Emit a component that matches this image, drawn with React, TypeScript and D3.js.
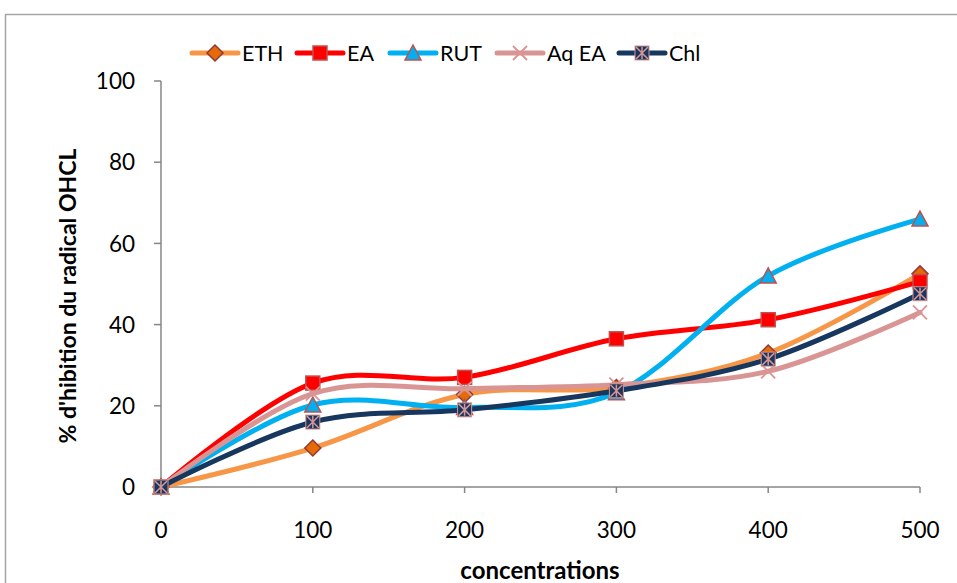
import React from "react";
import * as d3 from "d3";

// Concentrations tested and the inhibition (%) measured for each extract
const concentrations = [0, 100, 200, 300, 400, 500];
const ethValues = [0, 9.6, 22.8, 24.5, 33, 52.5];
const eaValues = [0, 25.6, 27, 36.5, 41.2, 50.6];
const rutValues = [0, 20.2, 19.6, 23.2, 52, 66];
const aqEaValues = [0, 23, 24.2, 25.2, 28.5, 43];
const chlValues = [0, 16, 19, 23.7, 31.5, 47.6];
const yTicks = [0, 20, 40, 60, 80, 100];

type MarkerKind = "diamond" | "square" | "triangle" | "cross" | "star";

const series: {
  name: string;
  values: number[];
  line: string;
  fill: string;
  stroke: string;
  marker: MarkerKind;
  legendX: number;
}[] = [
  { name: "ETH", values: ethValues, line: "#F79646", fill: "#E36C09", stroke: "#953735", marker: "diamond", legendX: 192 },
  { name: "EA", values: eaValues, line: "#FF0000", fill: "#FF0000", stroke: "#C0504D", marker: "square", legendX: 297 },
  { name: "RUT", values: rutValues, line: "#00B0F0", fill: "#00B0F0", stroke: "#C0504D", marker: "triangle", legendX: 390 },
  { name: "Aq EA", values: aqEaValues, line: "#D99594", fill: "none", stroke: "#D99594", marker: "cross", legendX: 497 },
  { name: "Chl", values: chlValues, line: "#17375E", fill: "#17375E", stroke: "#D99594", marker: "star", legendX: 619 },
];

const W = 957;
const H = 583;
const FONT = "Lato, 'Liberation Sans', sans-serif";

const x = d3.scaleLinear().domain([0, 500]).range([161, 920]);
const y = d3.scaleLinear().domain([0, 100]).range([487, 81]);

const lineGen = d3
  .line<[number, number]>()
  .x((d) => x(d[0]))
  .y((d) => y(d[1]))
  .curve(d3.curveCardinal.tension(0));

function Marker({ kind, cx, cy, fill, stroke }: { kind: MarkerKind; cx: number; cy: number; fill: string; stroke: string }) {
  const r = 7;
  switch (kind) {
    case "diamond":
      return (
        <path
          d={`M${cx},${cy - r - 1}L${cx + r + 1},${cy}L${cx},${cy + r + 1}L${cx - r - 1},${cy}Z`}
          fill={fill}
          stroke={stroke}
          strokeWidth={1.5}
        />
      );
    case "square":
      return <rect x={cx - r} y={cy - r} width={2 * r} height={2 * r} fill={fill} stroke={stroke} strokeWidth={1.5} />;
    case "triangle":
      return (
        <path
          d={`M${cx},${cy - r - 1}L${cx + r + 1},${cy + r}L${cx - r - 1},${cy + r}Z`}
          fill={fill}
          stroke={stroke}
          strokeWidth={1.5}
        />
      );
    case "cross":
      return (
        <path
          d={`M${cx - r},${cy - r}L${cx + r},${cy + r}M${cx + r},${cy - r}L${cx - r},${cy + r}`}
          stroke={stroke}
          strokeWidth={1.8}
          fill="none"
        />
      );
    case "star":
      return (
        <g>
          <rect x={cx - r} y={cy - r} width={2 * r} height={2 * r} fill={fill} stroke={stroke} strokeWidth={1} />
          <path
            d={`M${cx - r + 1},${cy - r + 1}L${cx + r - 1},${cy + r - 1}M${cx + r - 1},${cy - r + 1}L${cx - r + 1},${cy + r - 1}M${cx},${cy - r + 1}L${cx},${cy + r - 1}`}
            stroke={stroke}
            strokeWidth={1.5}
            fill="none"
          />
        </g>
      );
  }
}

export default function App() {
  const axisColor = "#868686";
  return (
    <svg
      width={W}
      height={H}
      viewBox={`0 0 ${W} ${H}`}
      style={{ position: "absolute", left: 0, top: 0, background: "#fff" }}
      fontFamily={FONT}
    >
      {/* outer chart frame */}
      <rect x={5.5} y={14.5} width={W + 10} height={H + 10} fill="none" stroke="#A6A6A6" strokeWidth={1.5} />

      {/* y axis */}
      <line x1={x(0)} x2={x(0)} y1={y(100)} y2={y(0)} stroke={axisColor} strokeWidth={1.5} />
      {yTicks.map((t) => (
        <g key={`y${t}`}>
          <line x1={x(0) - 7} x2={x(0)} y1={y(t)} y2={y(t)} stroke={axisColor} strokeWidth={1.5} />
          <text x={135} y={y(t)} dy="0.36em" textAnchor="end" fontSize={22.5} fill="#000">
            {t}
          </text>
        </g>
      ))}

      {/* x axis */}
      <line x1={x(0)} x2={x(500)} y1={y(0)} y2={y(0)} stroke={axisColor} strokeWidth={1.5} />
      {concentrations.map((c) => (
        <g key={`x${c}`}>
          <line x1={x(c)} x2={x(c)} y1={y(0)} y2={y(0) + 6} stroke={axisColor} strokeWidth={1.5} />
          <text x={x(c)} y={538} textAnchor="middle" fontSize={22.5} fill="#000">
            {c}
          </text>
        </g>
      ))}

      {/* axis titles */}
      <text x={540} y={579} textAnchor="middle" fontSize={24} fontWeight="bold" fill="#000">
        concentrations
      </text>
      <text
        transform={`translate(68, 296) rotate(-90)`}
        textAnchor="middle"
        dy="0.35em"
        fontSize={23}
        fontWeight="bold"
        fill="#000"
      >
        % d'hibition du radical OHCL
      </text>

      {/* series */}
      {series.map((s) => {
        const pts = concentrations.map((c, i) => [c, s.values[i]] as [number, number]);
        return (
          <g key={s.name}>
            <path d={lineGen(pts) || ""} fill="none" stroke={s.line} strokeWidth={5} strokeLinejoin="round" strokeLinecap="round" />
            {pts.map((p, i) => (
              <Marker key={i} kind={s.marker} cx={x(p[0])} cy={y(p[1])} fill={s.fill} stroke={s.stroke} />
            ))}
          </g>
        );
      })}

      {/* legend */}
      {series.map((s) => (
        <g key={`lg${s.name}`}>
          <line x1={s.legendX} x2={s.legendX + 46} y1={53} y2={53} stroke={s.line} strokeWidth={5} strokeLinecap="round" />
          <Marker kind={s.marker} cx={s.legendX + 23} cy={53} fill={s.fill} stroke={s.stroke} />
          <text x={s.legendX + 50} y={53} dy="0.36em" fontSize={21.5} fill="#000">
            {s.name}
          </text>
        </g>
      ))}
    </svg>
  );
}
